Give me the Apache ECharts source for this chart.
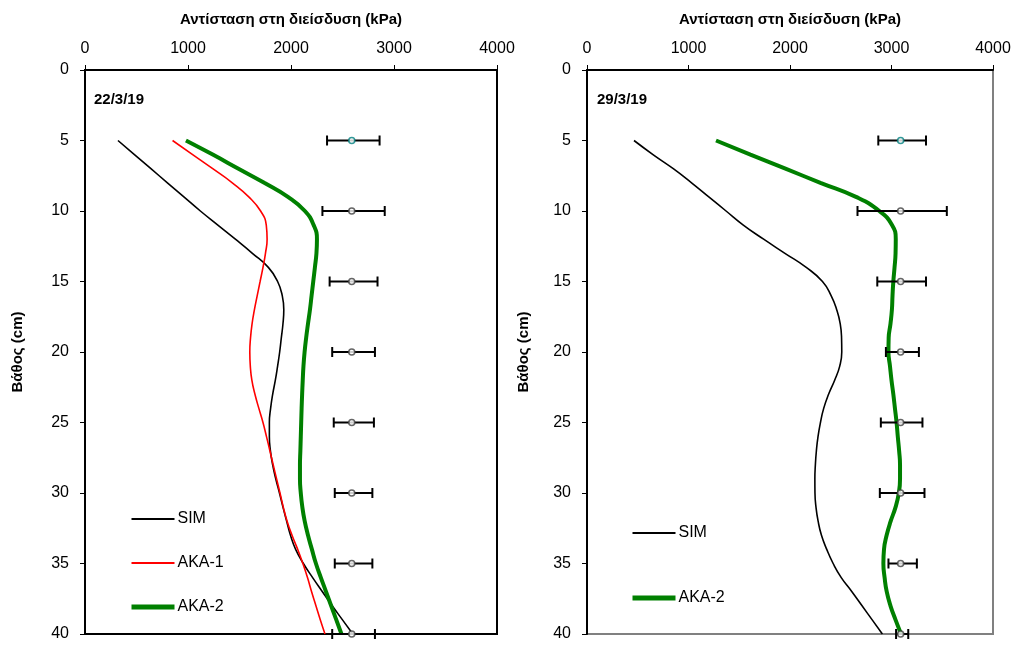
<!DOCTYPE html>
<html><head><meta charset="utf-8">
<script src="https://cdn.jsdelivr.net/npm/echarts@6/dist/echarts.min.js"></script>
<style>html,body{margin:0;padding:0;background:#fff}#c{width:1015px;height:646px}</style>
</head><body><div id="c"></div>
<script>
// ---- Data ----
var xTicks = [0, 1000, 2000, 3000, 4000];
var depthTicks = [0, 5, 10, 15, 20, 25, 30, 35, 40];
var panelLabels = ['22/3/19', '29/3/19'];
var xTitle = 'Αντίσταση στη διείσδυση (kPa)';
var yTitle = 'Βάθος (cm)';

var curveDepth = [5,6,7,8,9,10,11,12,13,14,15,16,17,18,19,20,21,22,23,24,25,26,27,28,29,30,31,32,33,34,35,36,37,38,39,40];

// Panel 1 (22/3/19)
var sim1 = [320,480,640,800,960,1120,1290,1460,1625,1780,1870,1915,1930,1922,1906,1890,1870,1848,1822,1802,1790,1790,1800,1822,1852,1888,1922,1958,1995,2045,2120,2210,2305,2400,2500,2600];
var aka1_1 = [850,1045,1240,1430,1590,1705,1760,1768,1752,1728,1700,1672,1645,1622,1607,1600,1605,1620,1650,1688,1728,1762,1795,1827,1860,1893,1925,1962,2010,2065,2115,2160,2200,2242,2285,2330];
var aka2_1 = [980,1240,1490,1740,1970,2135,2220,2252,2247,2232,2216,2200,2184,2165,2147,2132,2121,2114,2108,2103,2099,2095,2091,2087,2087,2095,2110,2133,2165,2203,2242,2290,2340,2390,2440,2490];

// Panel 2 (29/3/19)
var sim2 = [463,650,850,1030,1200,1370,1540,1740,1950,2160,2320,2405,2460,2495,2508,2510,2490,2440,2380,2332,2300,2276,2260,2250,2245,2246,2256,2277,2310,2362,2425,2505,2610,2710,2810,2910];
var aka2_2 = [1271,1610,1955,2300,2650,2880,3005,3042,3040,3030,3018,3010,3004,2990,2972,2970,2985,3000,3018,3034,3050,3062,3075,3084,3084,3072,3040,2992,2952,2926,2920,2932,2953,2990,3040,3094];

// Measurements with error bars
var obsDepth = [5,10,15,20,25,30,35,40];
var obsMean1 = [2590,2590,2590,2590,2590,2590,2590,2590];
var obsLow1  = [2350,2305,2375,2400,2415,2425,2425,2400];
var obsHigh1 = [2860,2910,2840,2815,2805,2790,2790,2815];
var obsMean2 = [3090,3090,3090,3090,3090,3090,3090,3090];
var obsLow2  = [2870,2665,2860,2945,2895,2885,2970,3045];
var obsHigh2 = [3340,3545,3340,3270,3305,3325,3250,3165];

// ---- Build ----
function pairs(xs, ys){ return xs.map(function(x,i){ return [x, ys[i]]; }); }
function errData(lo, hi, d){ return d.map(function(v,i){ return [lo[i], hi[i], v]; }); }

var FONT = 'Liberation Sans, Arial, sans-serif';
var STYLE = {
  'SIM':   {color: '#000', width: 1.6},
  'AKA-1': {color: '#ff0000', width: 1.6},
  'AKA-2': {color: '#008000', width: 4}
};

function errorSeries(idx, lo, hi){
  return {
    type: 'custom', xAxisIndex: idx, yAxisIndex: idx, z: 3,
    data: errData(lo, hi, obsDepth),
    renderItem: function(params, api){
      var y = api.value(2);
      var p1 = api.coord([api.value(0), y]);
      var p2 = api.coord([api.value(1), y]);
      var h = 5;
      var st = {stroke: '#000', lineWidth: 2};
      return {type: 'group', children: [
        {type: 'line', shape: {x1: p1[0], y1: p1[1], x2: p2[0], y2: p2[1]}, style: st},
        {type: 'line', shape: {x1: p1[0], y1: p1[1]-h, x2: p1[0], y2: p1[1]+h}, style: st},
        {type: 'line', shape: {x1: p2[0], y1: p2[1]-h, x2: p2[0], y2: p2[1]+h}, style: st}
      ]};
    }
  };
}
function markerSeries(idx, mean){
  return {
    type: 'scatter', xAxisIndex: idx, yAxisIndex: idx, z: 4,
    symbol: 'circle', symbolSize: 6,
    data: pairs(mean, obsDepth).map(function(p, i){
      return {value: p, itemStyle: {color: '#fff', borderColor: i === 0 ? '#008080' : '#404040', borderWidth: 1.6}};
    })
  };
}
function lineSeries(name, idx, xs){
  var s = STYLE[name];
  return {
    name: name, type: 'line', xAxisIndex: idx, yAxisIndex: idx,
    data: pairs(xs, curveDepth), smooth: 0.5, symbol: 'none', showSymbol: false,
    lineStyle: {color: s.color, width: s.width}, itemStyle: {color: s.color}, z: 2
  };
}
function legendItems(names){
  return names.map(function(n){
    return {name: n, lineStyle: {color: STYLE[n].color, width: n === 'AKA-2' ? 5 : 2}};
  });
}

var grids = [
  {left: 85, top: 70, width: 412, height: 564, show: true, borderColor: '#000', borderWidth: 2, backgroundColor: '#fff'},
  {left: 587, top: 70, width: 406, height: 564, show: true, borderColor: '#808080', borderWidth: 2, backgroundColor: '#fff'}
];
function xAx(i){
  return {
    gridIndex: i, type: 'value', position: 'top', min: 0, max: 4000, interval: 1000,
    name: xTitle, nameLocation: 'middle', nameGap: 43,
    nameTextStyle: {fontFamily: FONT, fontWeight: 'bold', fontSize: 15, color: '#000'},
    axisLine: {show: true, onZero: false, lineStyle: {color: '#000', width: 2}},
    axisTick: {show: true, inside: false, length: 5, lineStyle: {color: '#000', width: 1}},
    axisLabel: {fontFamily: FONT, fontSize: 16, color: '#000', margin: 13,
      formatter: function(v){ return xTicks.indexOf(v) >= 0 ? String(v) : ''; }},
    splitLine: {show: false}
  };
}
function yAx(i, gap){
  return {
    gridIndex: i, type: 'value', inverse: true, min: 0, max: 40, interval: 5,
    name: yTitle, nameLocation: 'middle', nameGap: gap, nameRotate: 90,
    nameTextStyle: {fontFamily: FONT, fontWeight: 'bold', fontSize: 15, color: '#000'},
    axisLine: {show: true, onZero: false, lineStyle: {color: '#000', width: 2}},
    axisTick: {show: true, inside: false, length: 5, lineStyle: {color: '#000', width: 1}},
    axisLabel: {fontFamily: FONT, fontSize: 16, color: '#000', margin: 16,
      formatter: function(v){ return depthTicks.indexOf(v) >= 0 ? String(v) : ''; }},
    splitLine: {show: false}
  };
}

var legendCommon = {
  orient: 'vertical', itemWidth: 43, itemHeight: 14, selectedMode: false, padding: 0,
  itemStyle: {opacity: 0},
  textStyle: {fontFamily: FONT, fontSize: 16, color: '#000', padding: [0,0,0,-2]}
};

var option = {
  animation: false,
  backgroundColor: '#fff',
  title: [
    {text: panelLabels[0], left: 89, top: 87, textStyle: {fontFamily: FONT, fontWeight: 'bold', fontSize: 15, color: '#000'}},
    {text: panelLabels[1], left: 592, top: 87, textStyle: {fontFamily: FONT, fontWeight: 'bold', fontSize: 15, color: '#000'}}
  ],
  grid: grids,
  xAxis: [xAx(0), xAx(1)],
  yAxis: [yAx(0, 60), yAx(1, 56)],
  legend: [
    Object.assign({}, legendCommon, {data: legendItems(['SIM', 'AKA-1', 'AKA-2']), left: 129, top: 511, itemGap: 28}),
    Object.assign({}, legendCommon, {data: legendItems(['SIM', 'AKA-2']), left: 630, top: 525, itemGap: 49})
  ],
  series: [
    lineSeries('SIM', 0, sim1),
    lineSeries('AKA-1', 0, aka1_1),
    lineSeries('AKA-2', 0, aka2_1),
    errorSeries(0, obsLow1, obsHigh1),
    markerSeries(0, obsMean1),
    lineSeries('SIM', 1, sim2),
    lineSeries('AKA-2', 1, aka2_2),
    errorSeries(1, obsLow2, obsHigh2),
    markerSeries(1, obsMean2)
  ]
};
var chart = echarts.init(document.getElementById('c'), null, {renderer: 'canvas'});
chart.setOption(option);
</script>
</body></html>
